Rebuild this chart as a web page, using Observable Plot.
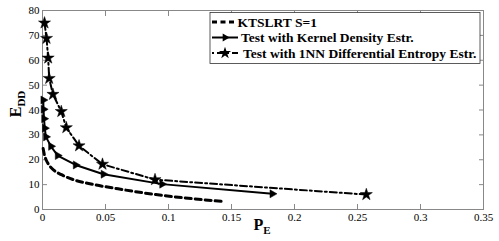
<!DOCTYPE html>
<html>
<head>
<meta charset="utf-8">
<script src="https://cdn.jsdelivr.net/npm/d3@7"></script>
<script src="https://cdn.jsdelivr.net/npm/@observablehq/plot@0.6"></script>
<style>
  html, body { margin: 0; padding: 0; background: #fff; }
  svg { display: block; }
</style>
</head>
<body>
<div id="chart"></div>
<script>
// KTSLRT S=1 (dashed curve)
const ktsX = [0.0005, 0.0015, 0.003, 0.005, 0.009, 0.015, 0.025, 0.04, 0.06, 0.09, 0.12, 0.144];
const ktsY = [24.5, 22, 19.8, 18, 15.8, 14, 11.9, 10.1, 8.3, 6.0, 4.3, 3.2];
// Test with Kernel Density Estr. (solid, right triangles)
const kdeX = [0.0006, 0.0008, 0.0012, 0.0018, 0.0027, 0.0067, 0.012, 0.0263, 0.0484, 0.0949, 0.1824];
const kdeY = [44.0, 40.3, 36.5, 32.7, 29.2, 25.4, 21.7, 17.9, 14.2, 10.2, 6.3];
// Test with 1NN Differential Entropy Estr. (dash-dot, stars)
const nnX = [0.0016, 0.0032, 0.0045, 0.0053, 0.0083, 0.0149, 0.0189, 0.029, 0.0476, 0.0893, 0.257];
const nnY = [75.0, 68.8, 60.9, 52.7, 46.3, 39.4, 32.9, 25.6, 18.2, 12.0, 6.0];

const xTicks = [0, 0.05, 0.1, 0.15, 0.2, 0.25, 0.3, 0.35];
const xTickLabels = ["0", "0.05", "0.1", "0.15", "0.2", "0.25", "0.3", "0.35"];
const yTicks = [0, 10, 20, 30, 40, 50, 60, 70, 80];
const seriesNames = ["KTSLRT S=1", "Test with Kernel Density Estr.", "Test with 1NN Differential Entropy Estr."];

const kts = ktsX.map((x, i) => ({x, y: ktsY[i]}));
const kde = kdeX.map((x, i) => ({x, y: kdeY[i]}));
const nn = nnX.map((x, i) => ({x, y: nnY[i]}));

const FONT = "'Liberation Serif', 'Times New Roman', serif";
const AX = "#888";
const R_STAR = 3.8, R_TRI = 3.0;

const svg = Plot.plot({
  width: 499,
  height: 241,
  marginLeft: 42,
  marginRight: 16,
  marginTop: 10,
  marginBottom: 32,
  style: {fontFamily: FONT, fontSize: "11px", color: "#000", background: "#fff"},
  x: {domain: [0, 0.35]},
  y: {domain: [0, 80]},
  marks: [
    Plot.frame({stroke: AX, strokeWidth: 1}),
    Plot.axisX(xTicks, {anchor: "bottom", tickSize: -5, text: null, stroke: AX, label: null}),
    Plot.axisX(xTicks, {anchor: "top", tickSize: -5, text: null, stroke: AX, label: null}),
    Plot.axisY(yTicks, {anchor: "left", tickSize: -5, text: null, stroke: AX, label: null}),
    Plot.axisY(yTicks, {anchor: "right", tickSize: -5, text: null, stroke: AX, label: null}),
    Plot.axisX(xTicks, {anchor: "bottom", tickSize: 0, tickPadding: 4, label: null, fill: "#000",
      tickFormat: (d) => xTickLabels[xTicks.indexOf(d)]}),
    Plot.axisY(yTicks, {anchor: "left", tickSize: 0, tickPadding: 3, label: null, fill: "#000"}),
    Plot.line(kts, {x: "x", y: "y", stroke: "#000", strokeWidth: 3, strokeDasharray: "6,4", curve: "monotone-x"}),
    Plot.line(nn, {x: "x", y: "y", stroke: "#000", strokeWidth: 2, strokeDasharray: "7,3,2,3"}),
    Plot.line(kde, {x: "x", y: "y", stroke: "#000", strokeWidth: 2}),
    Plot.dot(kde, {x: "x", y: "y", symbol: "triangle", rotate: 90, r: R_TRI, fill: "#000", stroke: "#000", strokeWidth: 0.5}),
    Plot.dot(nn, {x: "x", y: "y", symbol: "star", r: R_STAR, fill: "#000", stroke: "#000", strokeWidth: 0.5})
  ]
});

const s = d3.select(svg);
// axis labels
const yl = s.append("text")
  .attr("transform", "translate(21,104) rotate(-90)")
  .attr("text-anchor", "middle")
  .attr("font-family", FONT).attr("font-weight", "bold").attr("font-size", 16);
yl.append("tspan").text("E");
yl.append("tspan").attr("font-size", 11).attr("dy", 4).text("DD");

const xl = s.append("text")
  .attr("x", 262).attr("y", 230)
  .attr("text-anchor", "middle")
  .attr("font-family", FONT).attr("font-weight", "bold").attr("font-size", 16);
xl.append("tspan").text("P");
xl.append("tspan").attr("font-size", 11).attr("dy", 4).text("E");

// legend
const lg = s.append("g");
lg.append("rect").attr("x", 210).attr("y", 12.5).attr("width", 270).attr("height", 51)
  .attr("fill", "#fff").attr("stroke", "#333").attr("stroke-width", 0.8);
const rows = [22, 37.5, 53];
lg.append("line").attr("x1", 212).attr("x2", 236).attr("y1", rows[0]).attr("y2", rows[0])
  .attr("stroke", "#000").attr("stroke-width", 3).attr("stroke-dasharray", "5,3.5");
lg.append("line").attr("x1", 212).attr("x2", 238).attr("y1", rows[1]).attr("y2", rows[1])
  .attr("stroke", "#000").attr("stroke-width", 2);
lg.append("path").attr("d", d3.symbol(d3.symbolTriangle, Math.PI * R_TRI * R_TRI)())
  .attr("transform", `translate(225,${rows[1]}) rotate(90)`).attr("fill", "#000");
lg.append("line").attr("x1", 212).attr("x2", 238).attr("y1", rows[2]).attr("y2", rows[2])
  .attr("stroke", "#000").attr("stroke-width", 2).attr("stroke-dasharray", "2,3,7,3");
lg.append("path").attr("d", d3.symbol(d3.symbolStar, Math.PI * R_STAR * R_STAR)())
  .attr("transform", `translate(225,${rows[2]})`).attr("fill", "#000");
const tx = [237.5, 241, 243];
seriesNames.forEach((t, i) => {
  lg.append("text").attr("x", tx[i]).attr("y", rows[i]).attr("dy", "0.35em")
    .attr("text-anchor", "start")
    .attr("font-family", FONT).attr("font-weight", "bold").attr("font-size", 13.5).text(t);
});

document.getElementById("chart").appendChild(svg);
</script>
</body>
</html>
